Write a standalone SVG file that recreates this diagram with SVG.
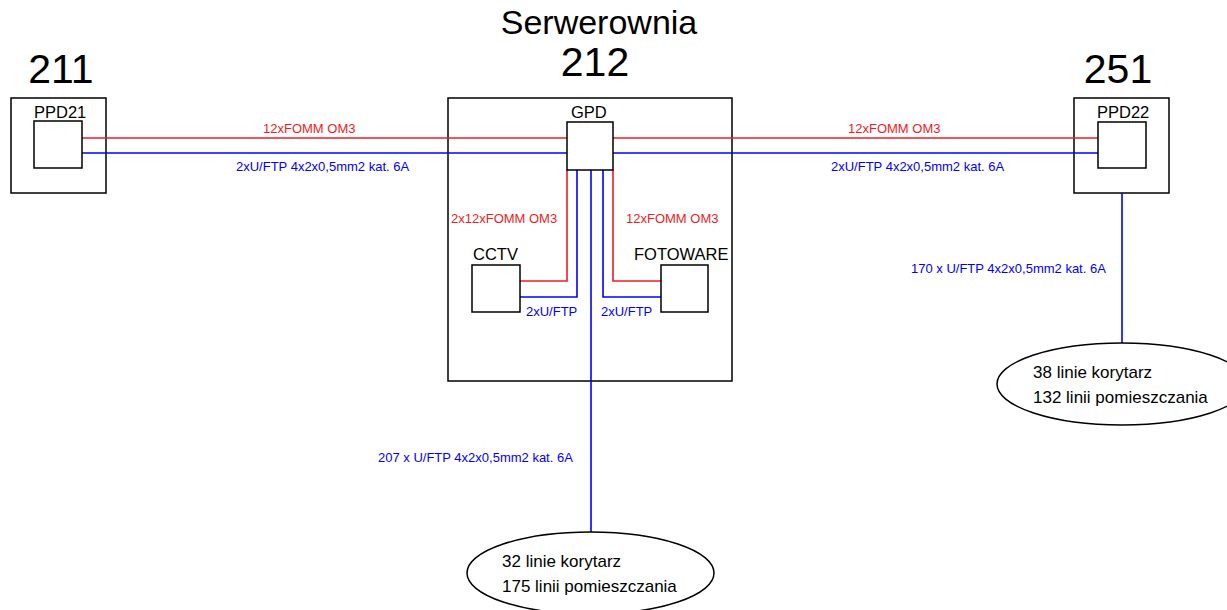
<svg xmlns="http://www.w3.org/2000/svg" width="1227" height="610" viewBox="0 0 1227 610">
<style>
text{font-family:"Liberation Sans",Arial,sans-serif;}
.box{fill:#fff;stroke:#000;stroke-width:1.5;}
.frame{fill:none;stroke:#000;stroke-width:1.5;}
.red{fill:none;stroke:#ee1c24;stroke-width:1.6;}
.blue{fill:none;stroke:#0000ff;stroke-width:1.6;}
.tr{fill:#ee1c24;font-size:13px;}
.tb{fill:#0000ff;font-size:13px;}
.big{font-size:41px;fill:#000;}
.lbl{font-size:16.5px;fill:#000;}
.el{font-size:17px;fill:#000;}
</style>
<rect width="1227" height="610" fill="#fff"/>
<g id="room211">
<text class="big" x="61" y="83" text-anchor="middle">211</text>
<rect class="frame" x="11" y="98" width="95" height="95"/>
</g>
<g id="room212">
<text x="599" y="34" text-anchor="middle" style="font-size:34px">Serwerownia</text>
<text class="big" x="595" y="76" text-anchor="middle">212</text>
<rect class="frame" x="448" y="98" width="284" height="283"/>
</g>
<g id="room251">
<text class="big" x="1118" y="83" text-anchor="middle">251</text>
<rect class="frame" x="1074" y="98" width="95" height="95"/>
</g>
<g id="connectors">
<line class="red" x1="82" y1="138" x2="567" y2="138"/>
<line class="blue" x1="82" y1="153" x2="567" y2="153"/>
<line class="red" x1="613" y1="138" x2="1098" y2="138"/>
<line class="blue" x1="613" y1="153" x2="1098" y2="153"/>
<polyline class="red" points="567,170 567,281 520,281"/>
<polyline class="blue" points="577,170 577,297 520,297"/>
<polyline class="red" points="613,170 613,281 661,281"/>
<polyline class="blue" points="603,170 603,297 661,297"/>
<line class="blue" x1="591" y1="170" x2="591" y2="532"/>
<line class="blue" x1="1122" y1="193" x2="1122" y2="343"/>
<text class="tr" x="263" y="133">12xFOMM OM3</text>
<text class="tb" x="236" y="171">2xU/FTP 4x2x0,5mm2 kat. 6A</text>
<text class="tr" x="848" y="133">12xFOMM OM3</text>
<text class="tb" x="831" y="171">2xU/FTP 4x2x0,5mm2 kat. 6A</text>
<text class="tr" x="451" y="223">2x12xFOMM OM3</text>
<text class="tr" x="626" y="223">12xFOMM OM3</text>
<text class="tb" x="526" y="316">2xU/FTP</text>
<text class="tb" x="601" y="316">2xU/FTP</text>
<text class="tb" x="378" y="462">207 x U/FTP 4x2x0,5mm2 kat. 6A</text>
<text class="tb" x="911" y="273">170 x U/FTP 4x2x0,5mm2 kat. 6A</text>
</g>
<g id="PPD21">
<rect class="box" x="34" y="121" width="48" height="47"/>
<text class="lbl" x="34" y="118">PPD21</text>
</g>
<g id="PPD22">
<rect class="box" x="1098" y="122" width="48" height="46"/>
<text class="lbl" x="1097" y="118">PPD22</text>
</g>
<g id="GPD">
<rect class="box" x="567" y="122" width="46" height="48"/>
<text class="lbl" x="571" y="118">GPD</text>
</g>
<g id="CCTV">
<rect class="box" x="472" y="265" width="48" height="47"/>
<text class="lbl" x="473" y="260">CCTV</text>
</g>
<g id="FOTOWARE">
<rect class="box" x="661" y="265" width="47" height="47"/>
<text class="lbl" x="634" y="260">FOTOWARE</text>
</g>
<g id="ends212">
<ellipse class="box" cx="590.5" cy="573" rx="123.5" ry="41"/>
<text class="el" x="502" y="567">32 linie korytarz</text>
<text class="el" x="502" y="592">175 linii pomieszczania</text>
</g>
<g id="ends251">
<ellipse class="box" cx="1122" cy="384" rx="125" ry="41"/>
<text class="el" x="1033" y="378">38 linie korytarz</text>
<text class="el" x="1033" y="403">132 linii pomieszczania</text>
</g>
</svg>
